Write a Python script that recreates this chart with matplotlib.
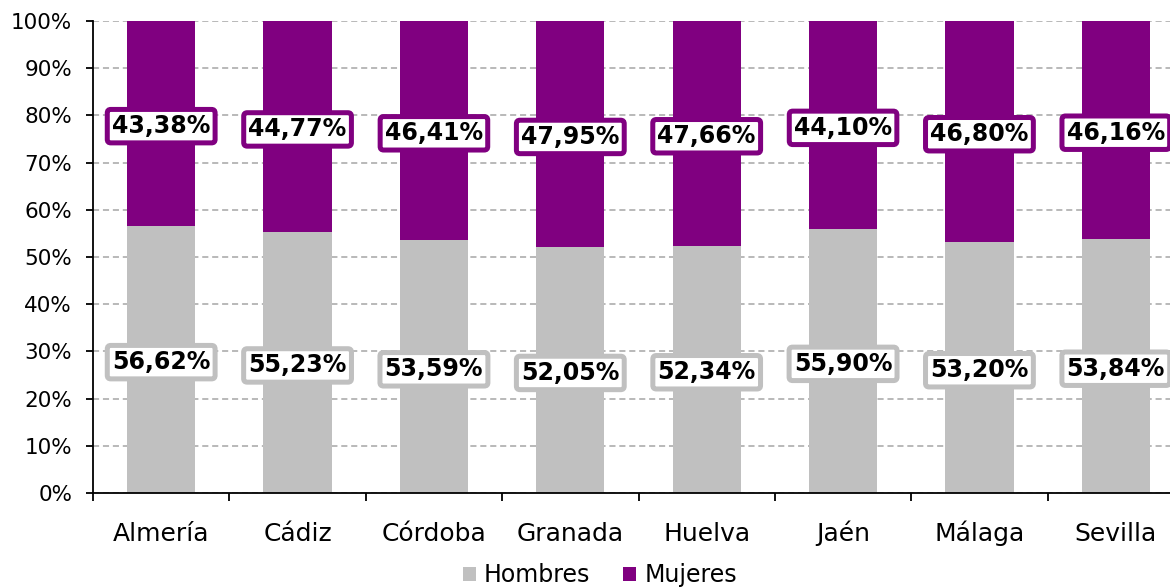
import matplotlib.pyplot as plt
import numpy as np

provincias = ["Almería", "Cádiz", "Córdoba", "Granada", "Huelva", "Jaén", "Málaga", "Sevilla"]
hombres = [56.62, 55.23, 53.59, 52.05, 52.34, 55.90, 53.20, 53.84]
mujeres = [43.38, 44.77, 46.41, 47.95, 47.66, 44.10, 46.80, 46.16]

gris = "#C0C0C0"
morado = "#800080"

fig = plt.figure(figsize=(11.7, 5.87), dpi=100)
# axes runs a bit past the right edge of the figure, as in the original
ax = fig.add_axes([93 / 1170, 1 - 493 / 587, 1091 / 1170, 472 / 587])

x = np.arange(len(provincias))
ax.bar(x, hombres, width=0.5, color=gris, label="Hombres", zorder=2)
ax.bar(x, mujeres, width=0.5, bottom=hombres, color=morado, label="Mujeres", zorder=2)

def fmt(v):
    return f"{v:.2f}%".replace(".", ",")

def etiqueta(xi, yi, valor, color):
    ax.annotate(fmt(valor), (xi, yi), xytext=(0, -2), textcoords="offset points",
                ha="center", va="center", fontsize=17, fontweight="bold", zorder=4,
                bbox=dict(boxstyle="round,pad=0.2,rounding_size=0.15", fc="white", ec=color, lw=3.6))

for i in range(len(provincias)):
    etiqueta(x[i], hombres[i] / 2, hombres[i], gris)
    etiqueta(x[i], hombres[i] + mujeres[i] / 2, mujeres[i], morado)

ax.set_xlim(-0.5, len(provincias) - 0.5)
ax.set_ylim(0, 100)
ax.set_yticks(np.arange(0, 101, 10))
ax.set_yticklabels([f"{v}%" for v in range(0, 101, 10)], fontsize=15.5)
ax.yaxis.grid(True, linestyle=(0, (4, 2.5)), color="#A6A6A6", lw=1.1, zorder=0)

# boundary ticks, category names placed on a common baseline
ax.set_xticks(np.arange(-0.5, len(provincias), 1))
ax.set_xticklabels([])
for i, nombre in enumerate(provincias):
    ax.text(x[i], -0.102, nombre, transform=ax.get_xaxis_transform(),
            ha="center", va="baseline", fontsize=18)
ax.tick_params(axis="x", length=6, width=1.3, direction="out")
ax.tick_params(axis="y", length=5, width=1.3, direction="out", pad=10)

for s in ["top", "right"]:
    ax.spines[s].set_visible(False)
for s in ["left", "bottom"]:
    ax.spines[s].set_linewidth(1.3)

fig.legend(loc="center", bbox_to_anchor=(600 / 1170, 1 - 575 / 587), ncol=2, frameon=False,
           fontsize=17, handlelength=0.55, handleheight=0.55, handletextpad=0.35, columnspacing=1.4)

fig.savefig("out.png", dpi=100)
